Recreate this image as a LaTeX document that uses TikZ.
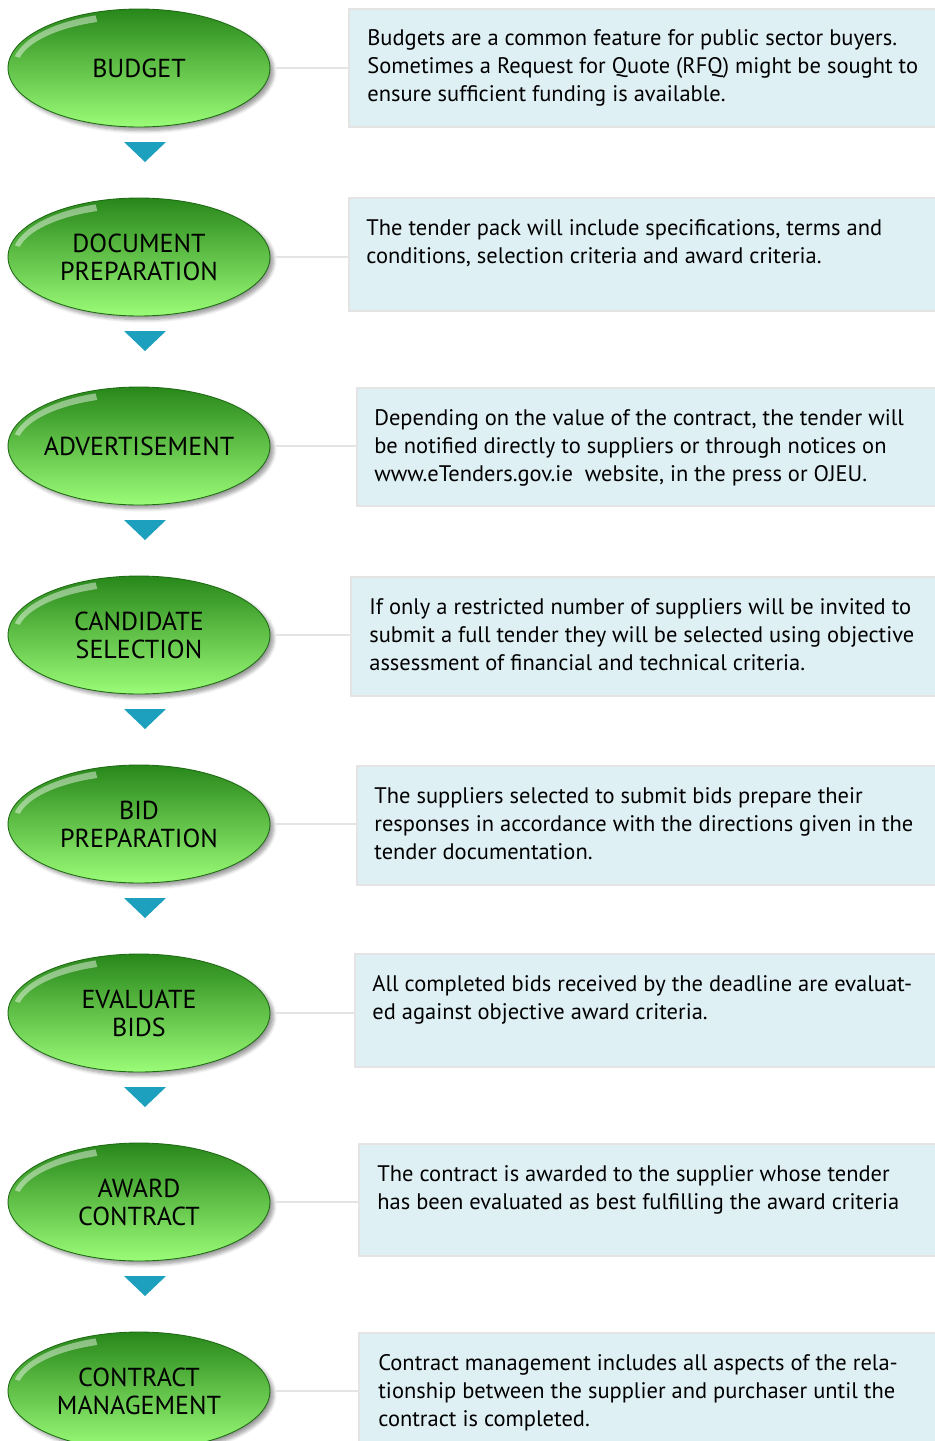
\documentclass[tikz,border=0pt]{standalone}
\usepackage{fontspec}
\setmainfont{PT Sans}
\usepackage{tikz}
\usetikzlibrary{shapes.geometric,shadows.blur,positioning,calc}
\definecolor{leafdark}{RGB}{40,135,26}
\definecolor{leaf}{RGB}{98,215,66}
\definecolor{leaflight}{RGB}{155,252,120}
\definecolor{panel}{RGB}{223,240,245}
\definecolor{panelrim}{RGB}{228,228,228}
\definecolor{tealtip}{RGB}{28,160,190}

\begin{document}
\begin{tikzpicture}[
    x=0.02cm, y=-0.02cm,
    stage/.style={ellipse, draw=leafdark!80!black, line width=0.5pt,
                  minimum width=5.24cm, minimum height=2.36cm,
                  inner xsep=-12pt, inner ysep=0pt,
                  top color=leafdark, middle color=leaf, bottom color=leaflight,
                  align=center, font=\fontsize{14.8}{15.9}\selectfont,
                  blur shadow={shadow xshift=2pt, shadow yshift=-2pt, shadow blur steps=6},
                  path picture={
                    \fill[white, opacity=0.45]
                      ([shift={(192:127 and 56)}]path picture bounding box.center)
                      arc[start angle=192, end angle=250, x radius=127, y radius=56]
                      -- ([shift={(250:122 and 49)}]path picture bounding box.center)
                      arc[start angle=250, end angle=192, x radius=122, y radius=49] -- cycle;
                  }},
    info/.style={draw=panelrim, line width=1.2pt, fill=panel, anchor=north west,
                 minimum width=12cm, inner sep=0pt},
    desc/.style={anchor=north west, align=left, inner sep=0pt,
                 font=\fontsize{12.8}{15.9}\selectfont},
    link/.style={draw=panelrim, line width=1.6pt, shorten <=3pt},
    pointer/.style={fill=tealtip}
]
    \useasboundingbox (0,0) rectangle (934,1441);

    % stages
    \node[stage] (budget)   at (139,68)   {BUDGET};
    \node[stage] (docprep)  at (139,257)  {DOCUMENT\\PREPARATION};
    \node[stage] (advert)   at (139,446)  {ADVERTISEMENT};
    \node[stage] (candsel)  at (139,635)  {CANDIDATE\\SELECTION};
    \node[stage] (bidprep)  at (139,824)  {BID\\PREPARATION};
    \node[stage] (evalbids) at (139,1013) {EVALUATE\\BIDS};
    \node[stage] (award)    at (139,1202) {AWARD\\CONTRACT};
    \node[stage] (contmgmt) at (139,1391) {CONTRACT\\MANAGEMENT};

    % panels
    \node[info, minimum height=2.36cm] (budgetbox)   at (348,8)    {};
    \node[info, minimum height=2.26cm] (docprepbox)  at (348,197)  {};
    \node[info, minimum height=2.36cm] (advertbox)   at (356,387)  {};
    \node[info, minimum height=2.38cm] (candselbox)  at (350,576)  {};
    \node[info, minimum height=2.38cm] (bidprepbox)  at (356,765)  {};
    \node[info, minimum height=2.26cm] (evalbidsbox) at (354,953)  {};
    \node[info, minimum height=2.24cm] (awardbox)    at (358,1143) {};
    \node[info, minimum height=2.36cm] (contmgmtbox) at (358,1332) {};

    \node[desc] (budgettxt) at ([shift={(19,21)}]budgetbox.north west)
        {Budgets are a common feature for public sector buyers.\\Sometimes a Request for Quote (RFQ) might be sought to\\ensure sufficient funding is available.};
    \node[desc] (docpreptxt) at ([shift={(18,22)}]docprepbox.north west)
        {The tender pack will include specifications, terms and\\conditions, selection criteria and award criteria.};
    \node[desc] (adverttxt) at ([shift={(18,22)}]advertbox.north west)
        {Depending on the value of the contract, the tender will\\be notified directly to suppliers or through notices on\\www.eTenders.gov.ie\ \ website, in the press or OJEU.};
    \node[desc] (candseltxt) at ([shift={(19,22)}]candselbox.north west)
        {If only a restricted number of suppliers will be invited to\\submit a full tender they will be selected using objective\\assessment of financial and technical criteria.};
    \node[desc] (bidpreptxt) at ([shift={(18,22)}]bidprepbox.north west)
        {The suppliers selected to submit bids prepare their\\responses in accordance with the directions given in the\\tender documentation.};
    \node[desc] (evalbidstxt) at ([shift={(18,22)}]evalbidsbox.north west)
        {All completed bids received by the deadline are evaluat-\\ed against objective award criteria.};
    \node[desc] (awardtxt) at ([shift={(19,22)}]awardbox.north west)
        {The contract is awarded to the supplier whose tender\\has been evaluated as best fulfilling the award criteria};
    \node[desc] (contmgmttxt) at ([shift={(20,22)}]contmgmtbox.north west)
        {Contract management includes all aspects of the rela-\\tionship between the supplier and purchaser until the\\contract is completed.};

    % links
    \draw[link] (budget.east)   -- (budget.east -| budgetbox.west);
    \draw[link] (docprep.east)  -- (docprep.east -| docprepbox.west);
    \draw[link] (advert.east)   -- (advert.east -| advertbox.west);
    \draw[link] (candsel.east)  -- (candsel.east -| candselbox.west);
    \draw[link] (bidprep.east)  -- (bidprep.east -| bidprepbox.west);
    \draw[link] (evalbids.east) -- (evalbids.east -| evalbidsbox.west);
    \draw[link] (award.east)    -- (award.east -| awardbox.west);
    \draw[link] (contmgmt.east) -- (contmgmt.east -| contmgmtbox.west);

    % pointers between stages
    \coordinate (tip1) at (145,152);
    \coordinate (tip2) at (145,341);
    \coordinate (tip3) at (145,530);
    \coordinate (tip4) at (145,719);
    \coordinate (tip5) at (145,908);
    \coordinate (tip6) at (145,1097);
    \coordinate (tip7) at (145,1286);
    \fill[pointer] ([shift={(-21,-10)}]tip1) -- ([shift={(21,-10)}]tip1) -- ([shift={(0,10)}]tip1) -- cycle;
    \fill[pointer] ([shift={(-21,-10)}]tip2) -- ([shift={(21,-10)}]tip2) -- ([shift={(0,10)}]tip2) -- cycle;
    \fill[pointer] ([shift={(-21,-10)}]tip3) -- ([shift={(21,-10)}]tip3) -- ([shift={(0,10)}]tip3) -- cycle;
    \fill[pointer] ([shift={(-21,-10)}]tip4) -- ([shift={(21,-10)}]tip4) -- ([shift={(0,10)}]tip4) -- cycle;
    \fill[pointer] ([shift={(-21,-10)}]tip5) -- ([shift={(21,-10)}]tip5) -- ([shift={(0,10)}]tip5) -- cycle;
    \fill[pointer] ([shift={(-21,-10)}]tip6) -- ([shift={(21,-10)}]tip6) -- ([shift={(0,10)}]tip6) -- cycle;
    \fill[pointer] ([shift={(-21,-10)}]tip7) -- ([shift={(21,-10)}]tip7) -- ([shift={(0,10)}]tip7) -- cycle;
\end{tikzpicture}
\end{document}
